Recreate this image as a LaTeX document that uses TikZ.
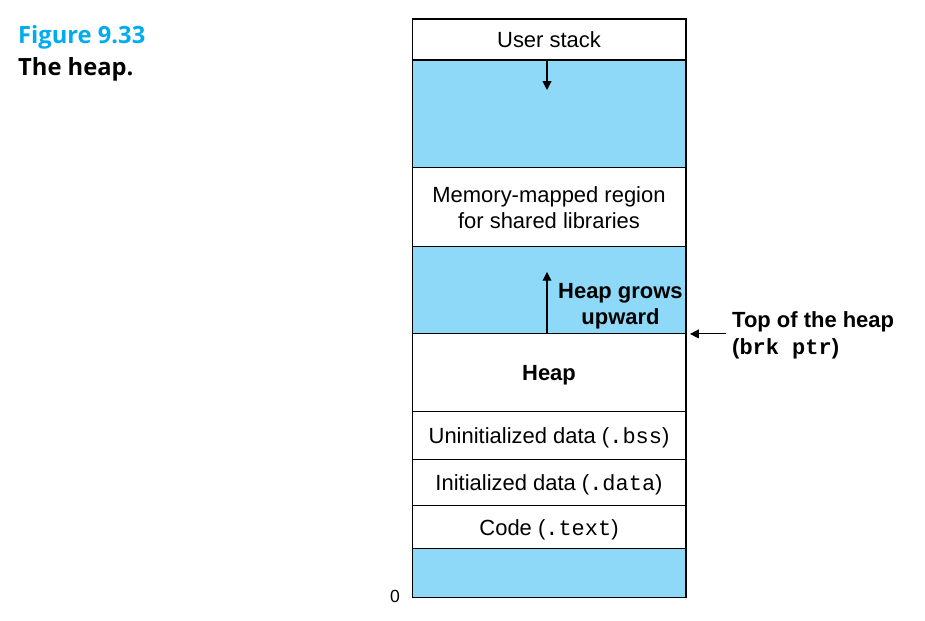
\documentclass[tikz,border=0pt]{standalone}
\usepackage{fontspec}
\setmainfont{Liberation Sans}
\setmonofont{Liberation Mono}
\newfontfamily\titlefont{Open Sans}
\usetikzlibrary{positioning,arrows.meta}
\definecolor{heapblue}{RGB}{142,216,248}
\definecolor{figcyan}{RGB}{0,172,236}
\tikzset{
  seg/.style={draw, line width=0.6pt, minimum width=5.48cm, minimum height=#1,
    inner sep=0pt, outer sep=0pt, text depth=0pt, font=\fontsize{12.5}{14.5}\selectfont, align=center},
  free/.style={seg=#1, fill=heapblue},
  growarrow/.style={-{Triangle[length=5pt,width=5pt]}, line width=0.6pt}
}
\begin{document}
\begin{tikzpicture}[x=0.02cm, y=-0.02cm, node distance=0pt]
\useasboundingbox (0,0) rectangle (925,621);

% caption
\node[anchor=west, text=figcyan, font=\titlefont\bfseries\fontsize{13.5}{16}\selectfont] (fig) at (12,37) {Figure 9.33};
\node[anchor=west, font=\titlefont\bfseries\fontsize{13.5}{16}\selectfont] (cap) at (12,69) {The heap.};

% memory image, top to bottom
\node[seg=0.82cm, anchor=north] (stack) at (549,19) {User stack};
\node[free=2.16cm, below=of stack] (gap1) {};
\node[seg=1.58cm, below=of gap1] (shlib) {Memory-mapped region\\for shared libraries};
\node[free=1.74cm, below=of shlib] (gap2) {};
\node[seg=1.56cm, below=of gap2, font=\fontsize{12.5}{14.5}\selectfont\bfseries] (heap) {Heap};
\node[seg=0.96cm, below=of heap] (bss) {Uninitialized data (\texttt{.bss})};
\node[seg=0.92cm, below=of bss] (data) {Initialized data (\texttt{.data})};
\node[seg=0.86cm, below=of data] (text) {Code (\texttt{.text})};
\node[free=0.98cm, below=of text] (gap3) {};

\node[anchor=east, font=\fontsize{10}{12}\selectfont] (zero) at ([xshift=-0.12cm, yshift=0.02cm]gap3.south west) {0};

% growth arrows
\coordinate (stackend) at ([xshift=-0.04cm, yshift=-0.6cm]stack.south);
\draw[growarrow] ([xshift=-0.04cm]stack.south) -- (stackend);
\coordinate (heapend) at ([xshift=-0.04cm, yshift=1.24cm]heap.north);
\draw[growarrow] ([xshift=-0.04cm]heap.north) -- (heapend);
\node[anchor=west, align=center, font=\fontsize{12.5}{14.5}\selectfont\bfseries] (grows) at (552,306) {Heap grows\\upward};

% brk pointer
\node[anchor=west, align=left, font=\fontsize{12.5}{15.5}\selectfont\bfseries] (brk) at (726,335) {Top of the heap\\(\texttt{brk ptr})};
\draw[growarrow] (brk.west |- heap.north east) -- ([xshift=0.08cm]heap.north east);
\end{tikzpicture}
\end{document}
